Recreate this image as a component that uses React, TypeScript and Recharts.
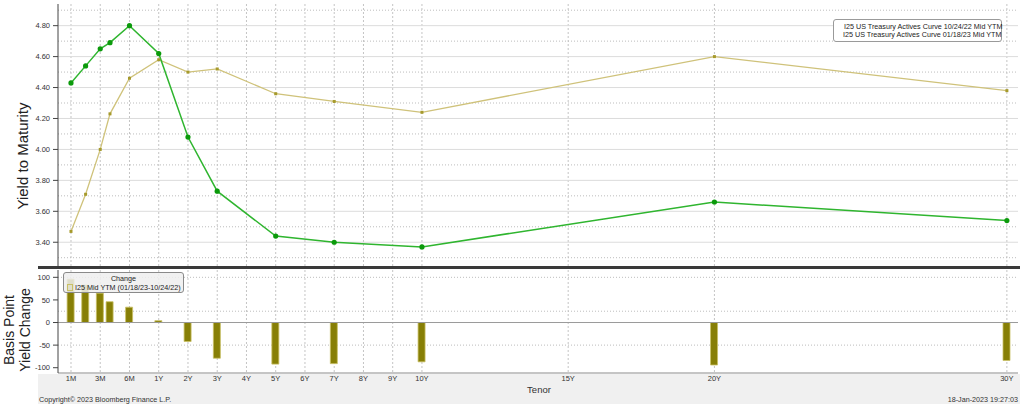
import React from 'react';
import { LineChart, Line, BarChart, Bar, XAxis, YAxis, CartesianGrid, ReferenceLine } from 'recharts';

// Axis tick tenors (labels) and their maturities in months
const tickLabels = ['1M', '3M', '6M', '1Y', '2Y', '3Y', '4Y', '5Y', '6Y', '7Y', '8Y', '9Y', '10Y', '15Y', '20Y', '30Y'];
const tickMonths = [1, 3, 6, 12, 24, 36, 48, 60, 72, 84, 96, 108, 120, 180, 240, 360];

// Curve points
const pointTenors = ['1M', '2M', '3M', '4M', '6M', '1Y', '2Y', '3Y', '5Y', '7Y', '10Y', '20Y', '30Y'];
const pointMonths = [1, 2, 3, 4, 6, 12, 24, 36, 60, 84, 120, 240, 360];
const yieldOct2422 = [3.47, 3.71, 4.0, 4.23, 4.46, 4.58, 4.5, 4.52, 4.36, 4.31, 4.24, 4.6, 4.38];
const yieldJan1823 = [4.43, 4.54, 4.65, 4.69, 4.8, 4.62, 4.08, 3.73, 3.44, 3.4, 3.37, 3.66, 3.54];
const changeBp = [96, 83, 65, 46, 34, 4, -42, -79, -92, -91, -87, -94, -84];

const yieldTicks = [3.4, 3.6, 3.8, 4.0, 4.2, 4.4, 4.6, 4.8];
const yieldMinor = [3.3, 3.5, 3.7, 3.9, 4.1, 4.3, 4.5, 4.7, 4.9];
const changeTicks = [-100, -50, 0, 50, 100];
const changeMinor = [-100, -75, -50, -25, 25, 50, 75, 100];

const seriesNames = [
  'I25 US Treasury Actives Curve 10/24/22 Mid YTM',
  'I25 US Treasury Actives Curve 01/18/23 Mid YTM',
];

// Bloomberg-style tenor axis: short end evenly spaced by tick, then linear in years
function tenorPos(m: number): number {
  if (m <= 3) return (m - 1) / 2;
  if (m <= 6) return 1 + (m - 3) / 3;
  if (m <= 12) return 2 + (m - 6) / 6;
  return m / 12 + 2;
}

const tickPos = tickMonths.map(tenorPos);
const labelByPos = new Map<number, string>(tickPos.map((p, i) => [p, tickLabels[i]]));

const curveData = pointTenors.map((t, i) => ({
  tenor: t,
  pos: tenorPos(pointMonths[i]),
  oct: yieldOct2422[i],
  jan: yieldJan1823[i],
}));
const changeData = pointTenors.map((t, i) => ({
  tenor: t,
  pos: tenorPos(pointMonths[i]),
  change: changeBp[i],
}));

const X_DOMAIN: [number, number] = [-0.444, 32.38];
const TICK_FONT = { fontSize: 7.5, fill: '#333', fontFamily: 'Liberation Sans' };
const TAN = '#cfc27a';
const TAN_DOT = '#a69a2c';
const GREEN = '#2fb52f';
const GREEN_DOT = '#0b9a0b';

const SquareDot = (props: any) => {
  const { cx, cy, index } = props;
  if (cx == null || cy == null) return <g key={`s${index}`} />;
  return <rect key={`s${index}`} x={cx - 1.5} y={cy - 1.5} width={3} height={3} fill={TAN_DOT} />;
};
const CircleDot = (props: any) => {
  const { cx, cy, index } = props;
  if (cx == null || cy == null) return <g key={`c${index}`} />;
  return <circle key={`c${index}`} cx={cx} cy={cy} r={2.6} fill={GREEN_DOT} />;
};

export default function App() {
  return (
    <div style={{ position: 'absolute', left: 0, top: 0, width: 1024, height: 408, background: '#fff', overflow: 'hidden' }}>
      {/* footer band */}
      <div style={{ position: 'absolute', left: 38, top: 374, width: 982, height: 30, background: '#f0f0f0' }} />

      {/* upper panel */}
      <div style={{ position: 'absolute', left: 0, top: 0 }}>
        <LineChart width={1024} height={268} data={curveData} margin={{ top: 4, right: 6, bottom: 1, left: 0 }}>
          <CartesianGrid horizontal={false} verticalValues={tickPos} stroke="#c4c4c4" strokeDasharray="2 2" />
          <CartesianGrid vertical={false} horizontalValues={yieldMinor} stroke="#bdbdbd" strokeDasharray="1 2" />
          <CartesianGrid vertical={false} horizontalValues={yieldTicks} stroke="#dcdcdc" />
          <XAxis type="number" dataKey="pos" domain={X_DOMAIN} ticks={tickPos} hide allowDataOverflow />
          <YAxis
            type="number"
            domain={[3.24, 4.94]}
            ticks={yieldTicks}
            tickFormatter={(v: number) => v.toFixed(2)}
            width={58}
            tick={TICK_FONT}
            tickSize={5}
            tickMargin={3}
            axisLine={{ stroke: '#444' }}
            tickLine={{ stroke: '#444' }}
            allowDataOverflow
          />
          <Line
            type="linear"
            dataKey="oct"
            name={seriesNames[0]}
            stroke={TAN}
            strokeWidth={1.3}
            dot={SquareDot}
            activeDot={false}
            isAnimationActive={false}
          />
          <Line
            type="linear"
            dataKey="jan"
            name={seriesNames[1]}
            stroke={GREEN}
            strokeWidth={1.5}
            dot={CircleDot}
            activeDot={false}
            isAnimationActive={false}
          />
        </LineChart>
      </div>

      {/* separator */}
      <div style={{ position: 'absolute', left: 38, top: 266, width: 982, height: 3, background: '#3a3a3a' }} />

      {/* lower panel */}
      <div style={{ position: 'absolute', left: 0, top: 268 }}>
        <BarChart width={1024} height={118} data={changeData} margin={{ top: 2, right: 6, bottom: 0, left: 0 }}>
          <CartesianGrid horizontal={false} verticalValues={tickPos} stroke="#c4c4c4" strokeDasharray="2 2" />
          <CartesianGrid vertical={false} horizontalValues={changeMinor} stroke="#bdbdbd" strokeDasharray="1 2" />
          <XAxis
            type="number"
            dataKey="pos"
            domain={X_DOMAIN}
            ticks={tickPos}
            interval={0}
            tickFormatter={(v: number) => labelByPos.get(v) ?? ''}
            height={13}
            tick={TICK_FONT}
            tickSize={3}
            tickMargin={0}
            tickLine={false}
            axisLine={{ stroke: '#8a8a8a' }}
            allowDataOverflow
          />
          <YAxis
            type="number"
            domain={[-111.7, 116.2]}
            ticks={changeTicks}
            width={58}
            tick={TICK_FONT}
            tickSize={5}
            tickMargin={3}
            axisLine={{ stroke: '#444' }}
            tickLine={{ stroke: '#444' }}
            allowDataOverflow
          />
          <ReferenceLine y={0} stroke="#9a9a9a" />
          <Bar dataKey="change" barSize={7} fill="#877f06" stroke="#c9c065" strokeWidth={0.8} isAnimationActive={false} />
        </BarChart>
      </div>

      {/* upper legend */}
      <div
        style={{
          position: 'absolute', left: 833, top: 19, width: 169, height: 23, border: '1px solid #9a9a9a',
          borderRadius: 3, background: '#fff', fontFamily: 'Liberation Sans', fontSize: 7.2, color: '#222',
          lineHeight: '8px', padding: '3px 0 0 6px', boxSizing: 'border-box', whiteSpace: 'nowrap',
        }}
      >
        <div style={{ display: 'flex', alignItems: 'center' }}>
          <span style={{ display: 'inline-block', width: 3, height: 3, background: TAN_DOT, marginRight: 4 }} />
          {seriesNames[0]}
        </div>
        <div style={{ display: 'flex', alignItems: 'center' }}>
          <span style={{ display: 'inline-block', width: 4, height: 4, borderRadius: 2, background: GREEN_DOT, marginRight: 3 }} />
          {seriesNames[1]}
        </div>
      </div>

      {/* lower legend */}
      <div
        style={{
          position: 'absolute', left: 63, top: 272, width: 121, height: 21, border: '1px solid #8a8a8a',
          borderRadius: 3, background: 'rgba(238,238,238,0.85)', fontFamily: 'Liberation Sans', fontSize: 7.2,
          color: '#222', lineHeight: '8.5px', boxSizing: 'border-box', paddingTop: 2, whiteSpace: 'nowrap',
        }}
      >
        <div style={{ textAlign: 'center' }}>Change</div>
        <div style={{ display: 'flex', alignItems: 'center', paddingLeft: 3 }}>
          <span style={{ display: 'inline-block', width: 4, height: 5, border: '1px solid #c9c065', marginRight: 2 }} />
          I25 Mid YTM (01/18/23-10/24/22)
        </div>
      </div>

      {/* axis titles */}
      <div
        style={{
          position: 'absolute', left: 22, top: 156, transform: 'translate(-50%, -50%) rotate(-90deg)',
          fontFamily: 'Liberation Sans', fontSize: 15, color: '#222', whiteSpace: 'nowrap',
        }}
      >
        Yield to Maturity
      </div>
      <div
        style={{
          position: 'absolute', left: 17, top: 330, transform: 'translate(-50%, -50%) rotate(-90deg)',
          fontFamily: 'Liberation Sans', fontSize: 14, color: '#222', whiteSpace: 'nowrap', textAlign: 'center',
          lineHeight: '16px',
        }}
      >
        Basis Point
        <br />
        Yield Change
      </div>
      <div
        style={{
          position: 'absolute', left: 539, top: 389, transform: 'translate(-50%, -50%)',
          fontFamily: 'Liberation Sans', fontSize: 9.5, color: '#333', whiteSpace: 'nowrap',
        }}
      >
        Tenor
      </div>

      {/* footer */}
      <div
        style={{
          position: 'absolute', left: 39, top: 395, fontFamily: 'Liberation Sans', fontSize: 7.2, color: '#333',
          whiteSpace: 'nowrap', lineHeight: '9px',
        }}
      >
        Copyright© 2023 Bloomberg Finance L.P.
      </div>
      <div
        style={{
          position: 'absolute', right: 6, top: 395, fontFamily: 'Liberation Sans', fontSize: 7.2, color: '#333',
          whiteSpace: 'nowrap', lineHeight: '9px',
        }}
      >
        18-Jan-2023 19:27:03
      </div>
    </div>
  );
}
